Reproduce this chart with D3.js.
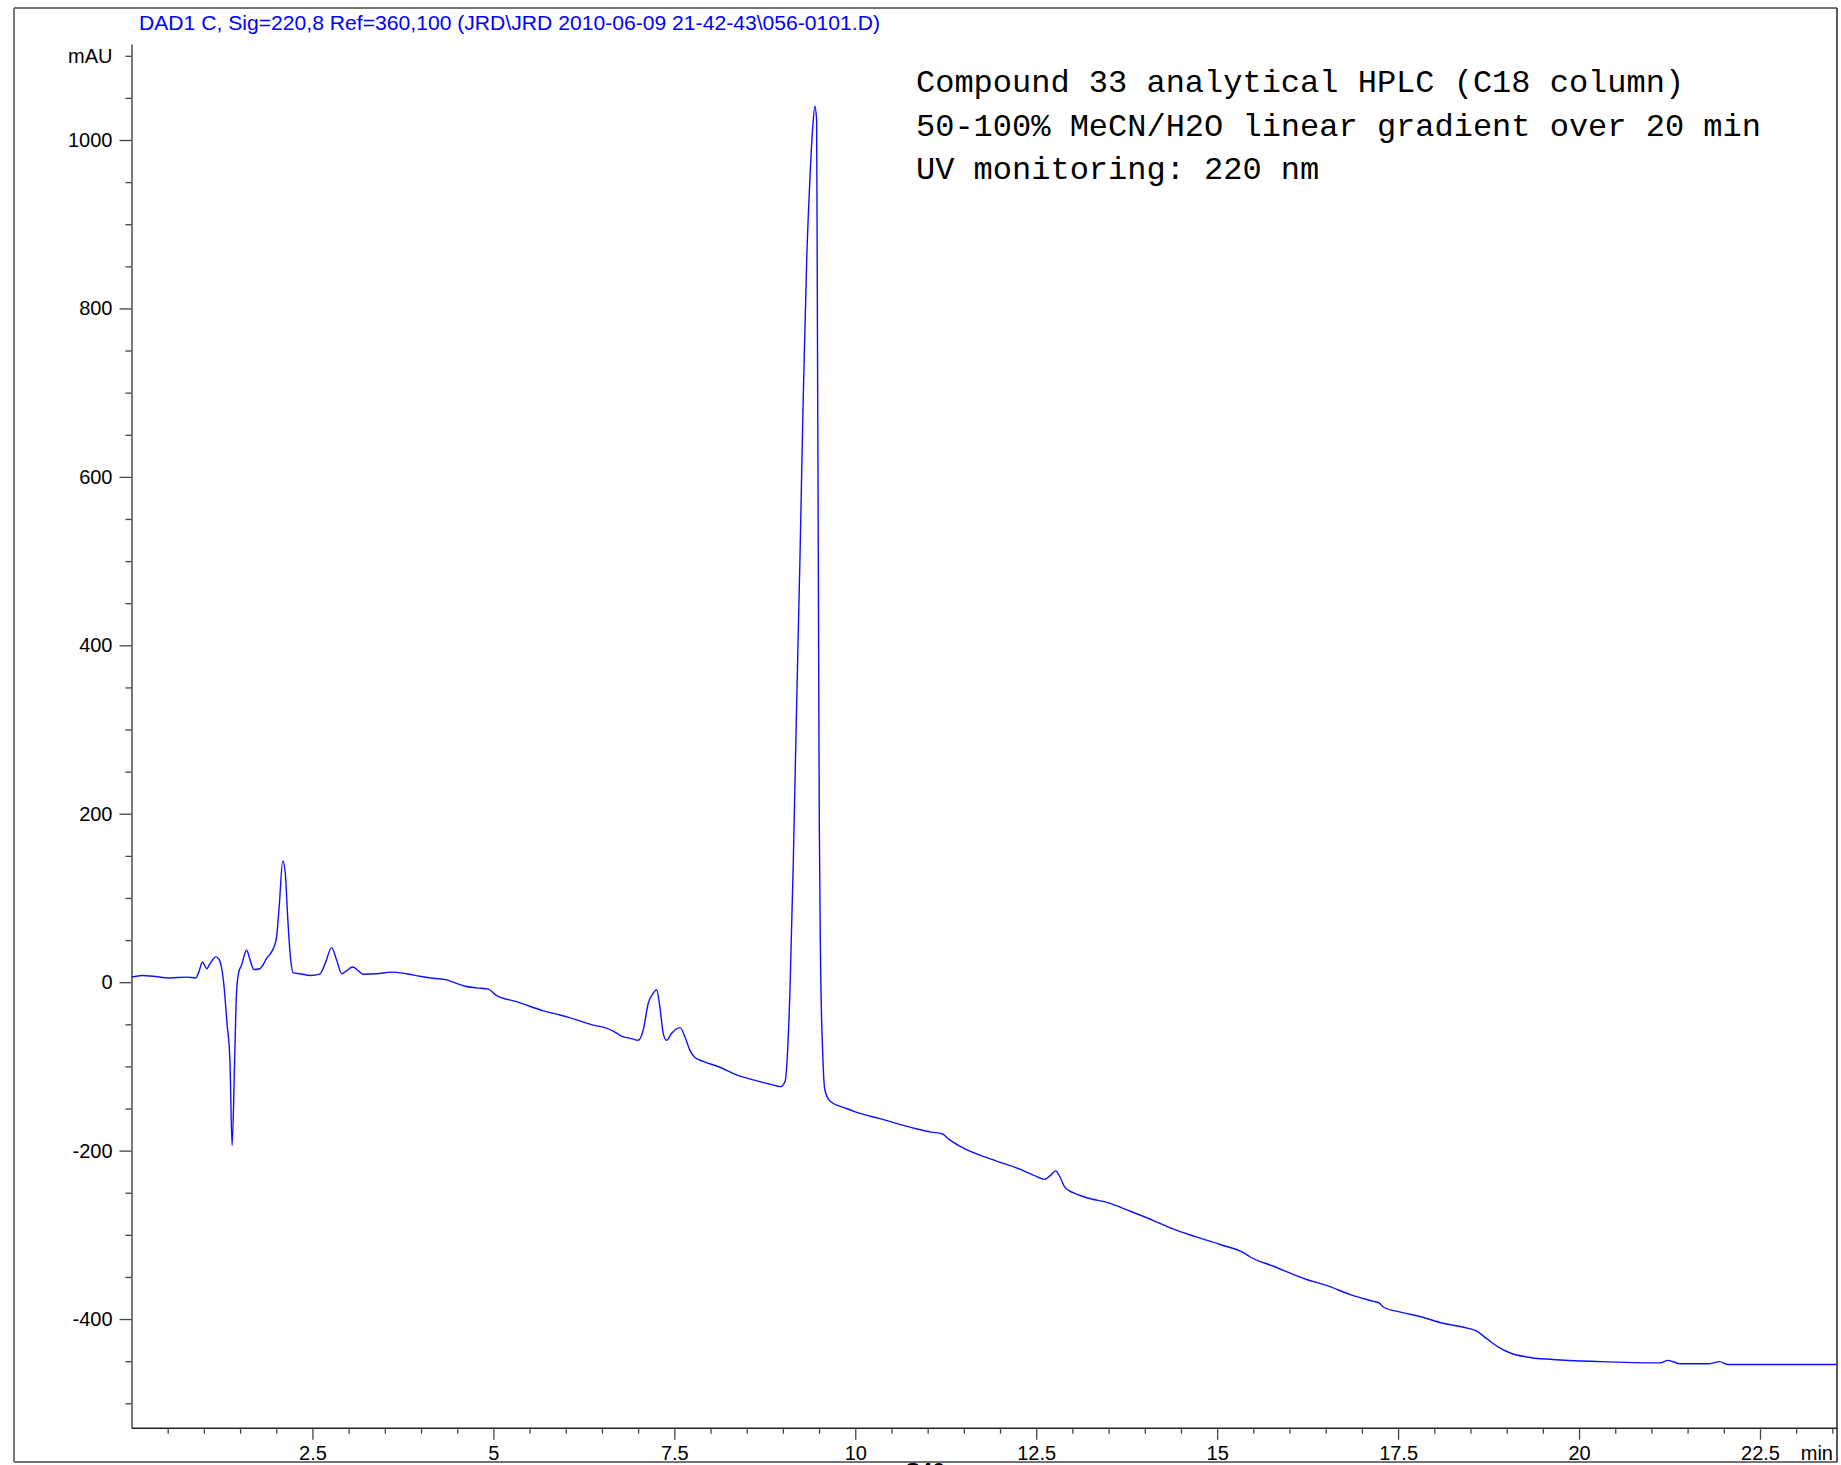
<!DOCTYPE html>
<html>
<head>
<meta charset="utf-8">
<script src="https://cdn.jsdelivr.net/npm/d3@7"></script>
<style>
  html, body { margin: 0; padding: 0; background: #fff; }
  svg { display: block; }
  .axis text { font-family: "Liberation Sans", Arial, sans-serif; font-size: 20px; fill: #000; }
</style>
</head>
<body>
<svg id="chart" width="1841" height="1465"></svg>
<script>
// ---- data ----
const times = [
  0.00, 0.15, 0.30, 0.53, 0.76, 0.89, 0.93, 0.98, 1.04, 1.085, 1.167, 1.21, 1.27, 1.32, 1.36, 1.39,
  1.425, 1.45, 1.48, 1.52, 1.59, 1.64, 1.69, 1.775, 1.82, 1.87, 1.92, 1.97, 2.005, 2.04, 2.09, 2.125,
  2.16, 2.2, 2.235, 2.33, 2.47, 2.6, 2.675, 2.765, 2.835, 2.905, 2.97, 3.055, 3.135, 3.2, 3.39, 3.595,
  3.8, 3.985, 4.17, 4.355, 4.445, 4.61, 4.77, 4.93, 5.045, 5.32, 5.69, 5.92, 6.196, 6.38, 6.54, 6.656,
  6.77, 6.91, 7.0, 7.07, 7.14, 7.21, 7.255, 7.30, 7.347, 7.394, 7.46, 7.58, 7.647, 7.716, 7.785, 7.9,
  8.13, 8.36, 8.59, 8.82, 8.97, 9.03, 9.06, 9.097, 9.143, 9.19, 9.235, 9.28, 9.328, 9.374, 9.41, 9.443,
  9.466, 9.475, 9.489, 9.503, 9.52, 9.55, 9.58, 9.65, 9.88, 10.0, 10.34, 10.84, 11.05, 11.2, 11.3, 11.45,
  11.97, 12.275, 12.46, 12.62, 12.69, 12.77, 12.826, 12.9, 13.01, 13.2, 13.5, 13.8, 14.12, 14.39, 14.715, 15.04,
  15.37, 15.45, 15.77, 16.235, 16.51, 16.84, 17.16, 17.24, 17.3, 17.52, 17.8, 18.12, 18.47, 18.58, 18.72, 18.88,
  19.04, 19.275, 19.64, 20.29, 21.12, 21.23, 21.39, 21.8, 21.94, 22.06, 22.59, 23.56
];
const signal = [
  6, 8, 7, 5, 6, 5, 12, 24, 16, 22, 30, 27, 2, -49, -93, -194,
  -93, -14, 11, 20, 38, 26, 15, 16, 21, 29, 34, 42, 54, 89, 144, 129,
  74, 26, 11, 10, 8, 9.5, 22, 41, 26, 10, 13.5, 18, 13.5, 9.5, 10, 12,
  10, 7, 4.7, 2.8, 0, -4.8, -6.7, -8.3, -16, -23, -34, -39, -46, -51, -54, -58,
  -64, -67, -69, -57, -25, -13, -9, -29, -61, -69, -61, -54, -65, -81, -89.5, -94,
  -101, -110, -116, -121, -124, -118, -90, -12, 140, 330, 500, 690, 855, 955, 1012, 1040,
  1023, 830, 509, 189, 28, -84, -128, -141, -150, -154, -162, -174, -178, -180, -187, -195,
  -213, -222, -229, -234, -230, -224, -231, -244, -250, -256, -262, -272, -283, -293, -302.5, -311.5,
  -321.5, -326, -337, -353, -360, -371, -379, -381, -386, -391.5, -397, -405, -411, -414, -423, -433,
  -440, -445, -448, -450.5, -452, -449, -453, -453, -450.5, -454, -454, -454
];
const xMajorTicks = [2.5, 5, 7.5, 10, 12.5, 15, 17.5, 20, 22.5];
const yMajorTicks = [-400, -200, 0, 200, 400, 600, 800, 1000];
const yUnitTick = 1100;
const yUnitLabel = "mAU";
const xUnitLabel = "min";
const headerText = "DAD1 C, Sig=220,8 Ref=360,100 (JRD\\JRD 2010-06-09 21-42-43\\056-0101.D)";
const noteLines = [
  "Compound 33 analytical HPLC (C18 column)",
  "50-100% MeCN/H2O linear gradient over 20 min",
  "UV monitoring: 220 nm"
];
const footerText = "S46";

// ---- layout ----
const svg = d3.select("#chart");
const frame = { left: 14, top: 8, right: 1837, bottom: 1462 };
const plot = { left: 131.5, right: 1836.7, top: 44, bottom: 1427.7 };

const x = d3.scaleLinear().domain([0, 23.56]).range([plot.left, plot.right]);
const y = d3.scaleLinear().domain([-529, 1114]).range([plot.bottom, plot.top]);

// outer frame
svg.append("line").attr("x1", frame.left).attr("x2", frame.right).attr("y1", frame.top).attr("y2", frame.top)
  .attr("stroke", "#444").attr("stroke-width", 1.5);
svg.append("line").attr("x1", frame.left).attr("x2", frame.right).attr("y1", frame.bottom).attr("y2", frame.bottom)
  .attr("stroke", "#444").attr("stroke-width", 1.5);
svg.append("line").attr("x1", frame.left).attr("x2", frame.left).attr("y1", frame.top).attr("y2", frame.bottom)
  .attr("stroke", "#777").attr("stroke-width", 2);
svg.append("line").attr("x1", frame.right).attr("x2", frame.right).attr("y1", frame.top).attr("y2", frame.bottom)
  .attr("stroke", "#222").attr("stroke-width", 1.5);

// minor tick values
const yMinor = d3.range(-500, 1101, 50).filter(v => !yMajorTicks.includes(v));
const xMinor = d3.range(0.5, 23.51, 0.5).filter(v => !xMajorTicks.includes(v));

// y axis
const gy = svg.append("g").attr("class", "axis").attr("transform", `translate(${plot.left},0)`);
gy.call(d3.axisLeft(y).tickValues(yMinor).tickSize(6).tickSizeOuter(0).tickFormat(""));
const gy2 = svg.append("g").attr("class", "axis").attr("transform", `translate(${plot.left},0)`);
gy2.call(d3.axisLeft(y).tickValues(yMajorTicks).tickSize(12).tickSizeOuter(0).tickPadding(7).tickFormat(d => String(d)));
gy2.select(".domain").remove();
gy.select(".domain").attr("stroke", "#777").attr("stroke-width", 2);
svg.selectAll(".axis .tick line").attr("stroke", "#444").attr("stroke-width", 1.3);
svg.append("text").attr("class", "axis")
  .attr("x", plot.left - 19).attr("y", y(yUnitTick)).attr("dy", "0.35em")
  .attr("text-anchor", "end")
  .style("font-family", '"Liberation Sans", Arial, sans-serif').style("font-size", "20px")
  .text(yUnitLabel);

// x axis
const gx = svg.append("g").attr("class", "axis").attr("transform", `translate(0,${plot.bottom})`);
gx.call(d3.axisBottom(x).tickValues(xMinor).tickSize(6).tickSizeOuter(0).tickFormat(""));
const gx2 = svg.append("g").attr("class", "axis").attr("transform", `translate(0,${plot.bottom})`);
gx2.call(d3.axisBottom(x).tickValues(xMajorTicks).tickSize(12).tickSizeOuter(0).tickPadding(6).tickFormat(d => String(d)));
gx2.select(".domain").remove();
gx.select(".domain").attr("stroke", "#222").attr("stroke-width", 1.5);
svg.selectAll(".axis .tick line").attr("stroke", "#444").attr("stroke-width", 1.3);
svg.append("text")
  .attr("x", 1833).attr("y", 1460)
  .attr("text-anchor", "end")
  .style("font-family", '"Liberation Sans", Arial, sans-serif').style("font-size", "20px")
  .text(xUnitLabel);

// trace
const data = times.map((t, i) => ({ t, v: signal[i] }));
const line = d3.line().x(d => x(d.t)).y(d => y(d.v)).curve(d3.curveMonotoneX);
svg.append("path").datum(data)
  .attr("d", line)
  .attr("fill", "none")
  .attr("stroke", "#1010ff")
  .attr("stroke-width", 1.4)
  .attr("stroke-linejoin", "round");

// header (blue)
const header = svg.append("text")
  .attr("x", 139).attr("y", 29.5)
  .style("font-family", '"Liberation Sans", Arial, sans-serif').style("font-size", "20px")
  .attr("fill", "#0000ff")
  .text(headerText);
const hw = header.node().getComputedTextLength();
header.style("font-size", (20 * 741 / hw).toFixed(2) + "px");

// annotation (monospace)
svg.append("g").selectAll("text").data(noteLines).join("text")
  .attr("x", 916)
  .attr("y", (d, i) => 92 + i * 43.5)
  .style("font-family", '"Liberation Mono", "Courier New", monospace')
  .style("font-size", "32px")
  .attr("fill", "#000")
  .text(d => d);

// footer label below the frame, cut off by the page edge as in the reference
svg.append("text")
  .attr("x", 925).attr("y", 1478)
  .attr("text-anchor", "middle")
  .style("font-family", '"Liberation Sans", Arial, sans-serif').style("font-size", "22px")
  .style("font-weight", "bold")
  .text(footerText);
</script>
</body>
</html>
